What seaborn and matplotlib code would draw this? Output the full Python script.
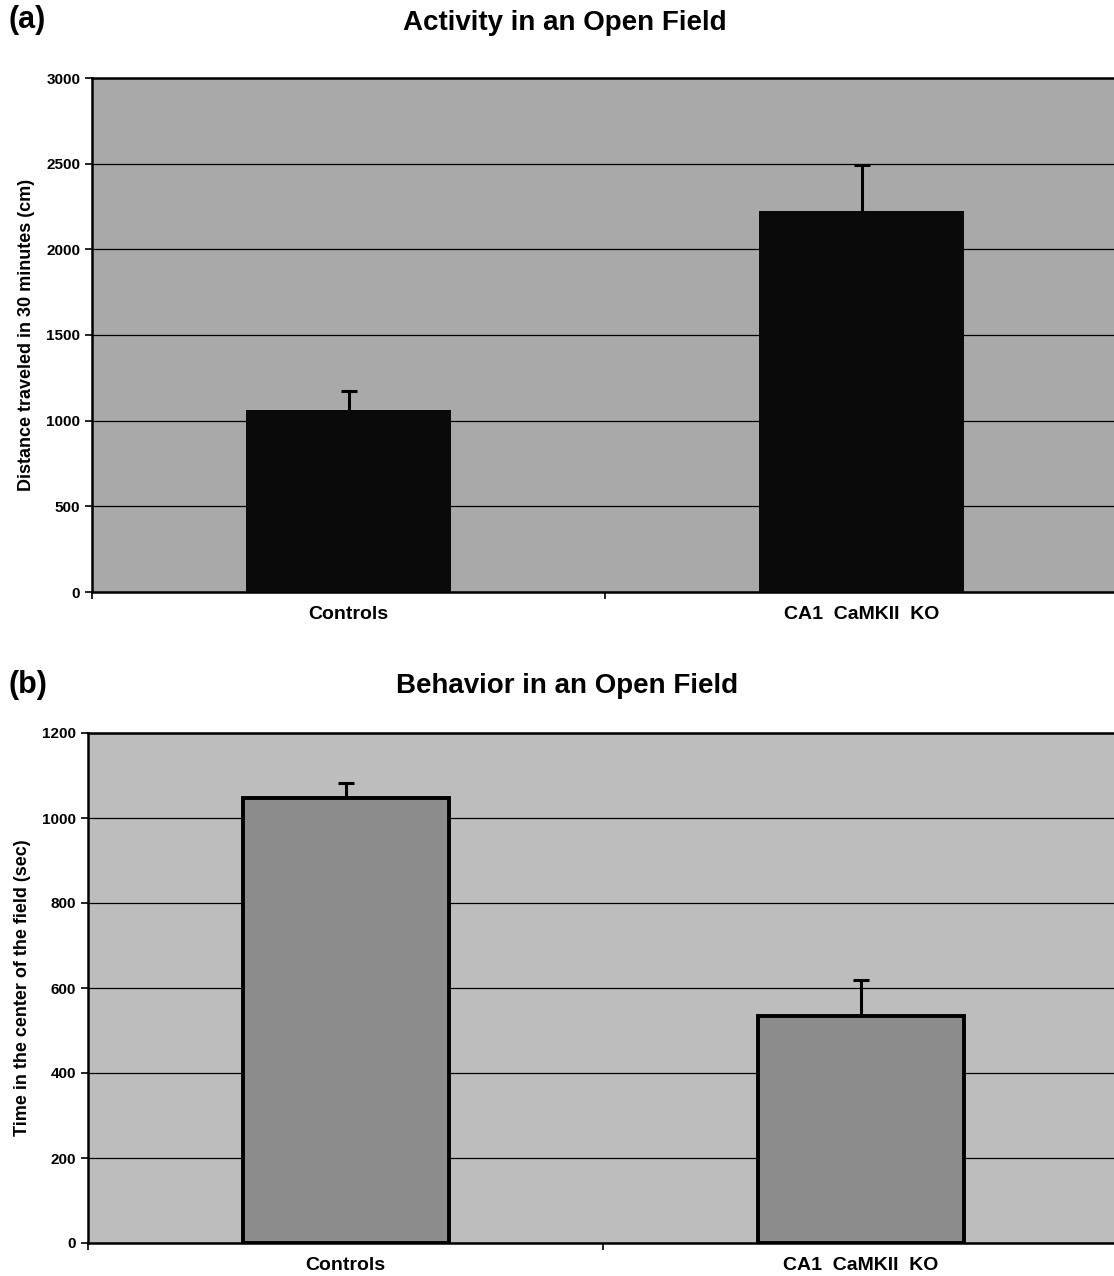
import numpy as np
import pandas as pd
import matplotlib
matplotlib.use("Agg")
import matplotlib.pyplot as plt
import seaborn as sns

groups = ["Controls", "CA1  CaMKII  KO"]
distance = [1065, 2225]
distance_err = [110, 265]
center_time = [1048, 533]
center_time_err = [35, 85]

sns.set_style("white")
plt.rcParams["font.family"] = ["Liberation Sans", "DejaVu Sans"]
plt.rcParams["font.weight"] = "bold"
plt.rcParams["text.color"] = "black"
plt.rcParams["axes.labelcolor"] = "black"
plt.rcParams["xtick.color"] = "black"
plt.rcParams["ytick.color"] = "black"

fig = plt.figure(figsize=(11.14, 12.76), dpi=100)
ax1 = fig.add_axes([92 / 1114, 1 - 592 / 1276, 1026 / 1114, 514 / 1276])
ax2 = fig.add_axes([88 / 1114, 1 - 1243 / 1276, 1030 / 1114, 510 / 1276])


def panel(ax, vals, errs, fill, edge, lw, ymax, step, ylabel, bg):
    df = pd.DataFrame({"group": groups, "value": vals})
    ax.set_facecolor(bg)
    sns.barplot(data=df, x="group", y="value", color=fill, width=0.4,
                edgecolor=edge, linewidth=lw, saturation=1, ax=ax, zorder=3)
    eb = ax.errorbar(range(len(vals)), vals, yerr=[np.zeros(len(errs)), errs],
                     fmt="none", ecolor="black", elinewidth=2.2, capsize=6,
                     capthick=2.2, zorder=2)
    eb[1][0].set_visible(False)
    ax.set_xlim(-0.5, 1.5)
    ax.set_ylim(0, ymax)
    ax.set_yticks(np.arange(0, ymax + 1, step))
    ax.yaxis.grid(True, color="black", linewidth=0.9, zorder=1)
    ax.set_axisbelow(True)
    ax.set_xlabel("")
    ax.set_ylabel(ylabel, fontsize=13, fontweight="bold", labelpad=8)
    ax.tick_params(axis="y", labelsize=11, length=5, width=1.2, direction="out", left=True)
    ax.tick_params(axis="x", labelsize=14, length=0, pad=10)
    ax.set_xticks([-0.5, 0.5, 1.5], minor=True)
    ax.tick_params(axis="x", which="minor", length=5, width=1.2, direction="out", bottom=True)
    for lab in ax.get_xticklabels() + ax.get_yticklabels():
        lab.set_fontweight("bold")
    for s in ["left", "bottom", "top"]:
        ax.spines[s].set_linewidth(1.8)
        ax.spines[s].set_color("black")
    ax.spines["right"].set_visible(False)


panel(ax1, distance, distance_err, "#0a0a0a", "#0a0a0a", 0, 3000, 500,
      "Distance traveled in 30 minutes (cm)", "#a9a9a9")
panel(ax2, center_time, center_time_err, "#8c8c8c", "black", 2.8, 1200, 200,
      "Time in the center of the field (sec)", "#bdbdbd")

fig.text(8 / 1114, 1 - 20 / 1276, "(a)", fontsize=22, fontweight="bold", va="center")
fig.text(8 / 1114, 1 - 685 / 1276, "(b)", fontsize=22, fontweight="bold", va="center")
fig.text(565 / 1114, 1 - 23 / 1276, "Activity in an Open Field", fontsize=20,
         fontweight="bold", ha="center", va="center")
fig.text(567 / 1114, 1 - 686 / 1276, "Behavior in an Open Field", fontsize=20,
         fontweight="bold", ha="center", va="center")

fig.savefig("out.png", dpi=100, facecolor="white")
